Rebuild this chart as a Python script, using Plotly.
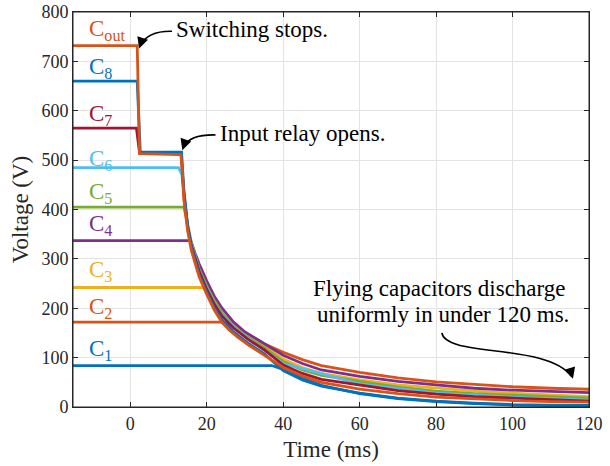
import plotly.graph_objects as go

# ---------------- data ----------------
t_c1 = [-15, 37, 40, 45, 50, 60, 70, 80, 90, 100, 110, 120]
v_c1 = [84, 84, 76, 58, 44, 27, 17, 11, 7, 4, 3, 2]

t_c2 = [-15, 24.2, 25, 27, 31, 35, 40, 45, 50, 60, 70, 80, 90, 100, 110, 120]
v_c2 = [172, 172, 170, 162, 146, 128, 111, 96, 84, 70, 59, 51, 46, 41, 38, 36]

t_c3 = [-15, 19, 20, 22, 24, 27, 31, 35, 40, 45, 50, 60, 70, 80, 90, 100, 110, 120]
v_c3 = [242, 242, 232, 208, 188, 166, 143, 124, 97, 80, 68, 55, 45, 38, 32, 28, 24, 21]

t_c4 = [-15, 15.8, 17, 18, 20, 22, 24, 27, 30, 35, 40, 45, 50, 60, 70, 80, 90, 100, 110, 120]
v_c4 = [337, 337, 310, 290, 255, 224, 200, 172, 152, 128, 105, 88, 75, 62, 52, 45, 38, 34, 31, 29]

t_c5 = [-15, 14, 15, 16, 18, 20, 22, 24, 27, 31, 35, 40, 45, 50, 60, 70, 80, 90, 100, 110, 120]
v_c5 = [405, 405, 370, 332, 280, 245, 215, 191, 163, 140, 120, 92, 75, 64, 52, 40, 32, 27, 24, 21, 18]

t_c6 = [-15, 12.6, 13.5, 14, 15, 16, 18, 20, 22, 24, 27, 31, 40, 60, 80, 100, 120]
v_c6 = [485, 485, 470, 435, 368, 328, 276, 240, 210, 186, 162, 138, 88, 47, 28, 20, 14]

t_c7 = [-15, 1.6, 2.4, 13.3, 14, 15, 16, 18, 20, 22, 24, 27, 31, 35, 40, 45, 50, 60, 70, 80, 90, 100, 110, 120]
v_c7 = [565, 565, 515, 512, 430, 365, 326, 275, 238, 208, 184, 160, 136, 116, 85, 68, 56, 44, 33, 26, 21, 18, 15, 12]

t_c8 = [-15, 1.8, 2.6, 13.4, 14, 15, 16, 17, 18, 20, 22, 24, 27, 31, 35, 40, 45, 50, 60, 70, 80, 90, 100, 110, 120]
v_c8 = [660, 660, 516, 516, 440, 365, 322, 294, 268, 232, 200, 176, 152, 128, 108, 74, 55, 42, 28, 18, 12, 8, 5, 4, 3]

t_cout = [-15, 1.8, 2.4, 13.2, 13.6, 14, 15, 16, 17, 18, 20, 22, 24, 26, 28, 31, 35, 40, 45, 50, 60, 70, 80, 90, 100, 110, 120]
v_cout = [732, 732, 513, 511, 480, 420, 356, 316, 290, 264, 228, 196, 171, 155, 142, 125, 105, 80, 63, 50, 36, 27, 20, 16, 13, 11, 10]

series_names = ["C<sub>1</sub>", "C<sub>2</sub>", "C<sub>3</sub>", "C<sub>4</sub>", "C<sub>5</sub>",
                "C<sub>6</sub>", "C<sub>7</sub>", "C<sub>8</sub>", "C<sub>out</sub>"]
series_t = [t_c1, t_c2, t_c3, t_c4, t_c5, t_c6, t_c7, t_c8, t_cout]
series_v = [v_c1, v_c2, v_c3, v_c4, v_c5, v_c6, v_c7, v_c8, v_cout]
label_y = [115, 200, 275, 368, 434, 501, 592, 687, 764]

colors = ["#0072BD", "#D95319", "#EDB120", "#7E2F8E", "#77AC30",
          "#4DBEEE", "#A2142F", "#0072BD", "#D95319"]

x_ticks = [0, 20, 40, 60, 80, 100, 120]
y_ticks = [0, 100, 200, 300, 400, 500, 600, 700, 800]

FONT = "Liberation Serif, Times New Roman, serif"

fig = go.Figure()
for name, tt, vv, c in zip(series_names, series_t, series_v, colors):
    fig.add_trace(go.Scatter(x=tt, y=vv, mode="lines", name=name,
                             line=dict(color=c, width=2.8), showlegend=False))

# series labels
for name, ly, c in zip(series_names, label_y, colors):
    fig.add_annotation(x=-11.4, y=ly, xref="x", yref="y", text=name, showarrow=False,
                       xanchor="left", yanchor="middle",
                       font=dict(family=FONT, size=23, color=c))

# text annotations
txt_font = dict(family=FONT, size=23, color="#000000")
fig.add_annotation(x=11.4, y=764, text="Switching stops.", showarrow=False,
                   xanchor="left", yanchor="middle", font=txt_font)
fig.add_annotation(x=22.9, y=553, text="Input relay opens.", showarrow=False,
                   xanchor="left", yanchor="middle", font=txt_font)
fig.add_annotation(x=81.0, y=239, text="Flying capacitors discharge", showarrow=False,
                   xanchor="center", yanchor="middle", font=txt_font)
fig.add_annotation(x=81.8, y=188, text="uniformly in under 120 ms.", showarrow=False,
                   xanchor="center", yanchor="middle", font=txt_font)

# curved arrow bodies
fig.add_shape(type="path", xref="x", yref="y",
              path="M 10.9,761 Q 4.5,762 2.6,732",
              line=dict(color="black", width=1.6))
fig.add_shape(type="path", xref="x", yref="y",
              path="M 22.3,551 Q 15.5,552 14.0,527",
              line=dict(color="black", width=1.6))
fig.add_shape(type="path", xref="x", yref="y",
              path="M 81.5,150 C 82.5,100 109,130 115.4,62",
              line=dict(color="black", width=1.6))
# arrow heads
fig.add_annotation(x=2.3, y=726, ax=3, ay=-9, text="", showarrow=True,
                   arrowhead=2, arrowsize=1.4, arrowwidth=1.6, arrowcolor="black")
fig.add_annotation(x=13.6, y=520, ax=3, ay=-9, text="", showarrow=True,
                   arrowhead=2, arrowsize=1.4, arrowwidth=1.6, arrowcolor="black")
fig.add_annotation(x=115.8, y=57, ax=-3, ay=-10, text="", showarrow=True,
                   arrowhead=2, arrowsize=1.4, arrowwidth=1.6, arrowcolor="black")

# axes box frame
fig.add_shape(type="rect", xref="paper", yref="paper", x0=0, x1=1, y0=0, y1=1,
              line=dict(color="#262626", width=1), layer="above")

axis_common = dict(showline=True, linecolor="#262626", linewidth=1, mirror="ticks",
                   ticks="inside", ticklen=5, tickcolor="#262626",
                   showgrid=True, gridcolor="#E3E3E3", gridwidth=1, zeroline=False,
                   tickfont=dict(family=FONT, size=18, color="#262626"))

fig.update_xaxes(range=[-15, 120], tickvals=x_ticks, ticktext=[str(v) for v in x_ticks],
                 title=dict(text="Time (ms)", font=dict(family=FONT, size=23, color="#262626"), standoff=8),
                 **axis_common)
fig.update_yaxes(range=[0, 800], tickvals=y_ticks, ticktext=[str(v) for v in y_ticks],
                 title=dict(text="Voltage (V)", font=dict(family=FONT, size=23, color="#262626"), standoff=6),
                 **axis_common)

fig.update_layout(width=610, height=466, margin=dict(l=73, r=21, t=12, b=59, autoexpand=False),
                  plot_bgcolor="white", paper_bgcolor="white",
                  font=dict(family=FONT, color="#262626"))

# remove the default 8px page margin so the figure sits at the window origin; hide the modebar
fig.write_html("out.html", config={"displayModeBar": False},
               post_script="document.body.style.margin='0px';")
